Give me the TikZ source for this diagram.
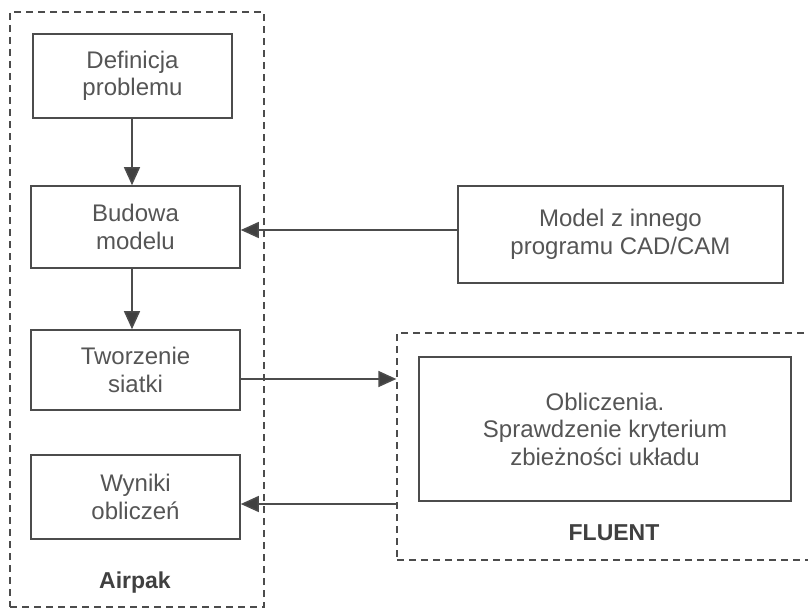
\documentclass[tikz,border=0pt]{standalone}
\usepackage{fontspec}
\setmainfont{Liberation Sans}
\usetikzlibrary{arrows.meta,positioning}
\definecolor{linegray}{HTML}{4C4C4C}
\definecolor{textgray}{HTML}{555555}
\definecolor{headgray}{HTML}{404040}
\tikzset{
  stepbox/.style={draw=linegray, line width=1.6pt, rectangle, align=center,
    text=textgray, font=\fontsize{24}{27.5}\selectfont, inner sep=0pt},
  groupbox/.style={draw=linegray, line width=1.3pt, dash pattern=on 7pt off 5pt, rectangle, inner sep=0pt},
  grouplabel/.style={text=headgray, font=\fontsize{23}{26}\selectfont\bfseries, inner sep=0pt},
  flow/.style={draw=linegray, line width=1.5pt, -{Triangle[length=18pt,width=16pt,fill=headgray]}}
}
\begin{document}
\begin{tikzpicture}[x=1pt,y=-1pt]
\useasboundingbox[fill=white] (0,0) rectangle (808,610);
% groups
\node[groupbox, minimum width=254pt, minimum height=595pt] (airpak) at (137,309.5) {};
\node[groupbox, minimum width=420pt, minimum height=227pt] (fluent) at (607,446.5) {};
\node[grouplabel] (airpaklbl) at (135,583) {Airpak};
\node[grouplabel] (fluentlbl) at (614,533) {FLUENT};
% steps
\node[stepbox, minimum width=199pt, minimum height=84pt] (def) at (132.5,76) {Definicja\\problemu};
\node[stepbox, minimum width=209pt, minimum height=82pt] (bud) at (135.5,227) {Budowa\\modelu};
\node[stepbox, minimum width=209pt, minimum height=80pt] (tw) at (135.5,370) {Tworzenie\\siatki};
\node[stepbox, minimum width=209pt, minimum height=84pt] (wyn) at (135.5,497) {Wyniki\\oblicze\'n};
\node[stepbox, minimum width=325pt, minimum height=97pt] (model) at (620.5,234.5) {Model z innego\\programu CAD/CAM};
\node[stepbox, minimum width=372pt, minimum height=144pt] (obl) at (605,429) {Obliczenia.\\Sprawdzenie kryterium\\zbieżności układu};
% connectors
\draw[flow] (def.south -| 132,0) -- (bud.north -| 132,0);
\draw[flow] (bud.south -| 132,0) -- (tw.north -| 132,0);
\draw[flow] ([yshift=4.5pt]model.west) -- ([yshift=4.5pt]model.west -| bud.east);
\draw[flow] ([yshift=-9pt]tw.east) -- ([yshift=-9pt]tw.east -| fluent.west);
\draw[flow] ([yshift=-57.5pt]fluent.west) -- ([yshift=-57.5pt]fluent.west -| wyn.east);
\end{tikzpicture}
\end{document}
